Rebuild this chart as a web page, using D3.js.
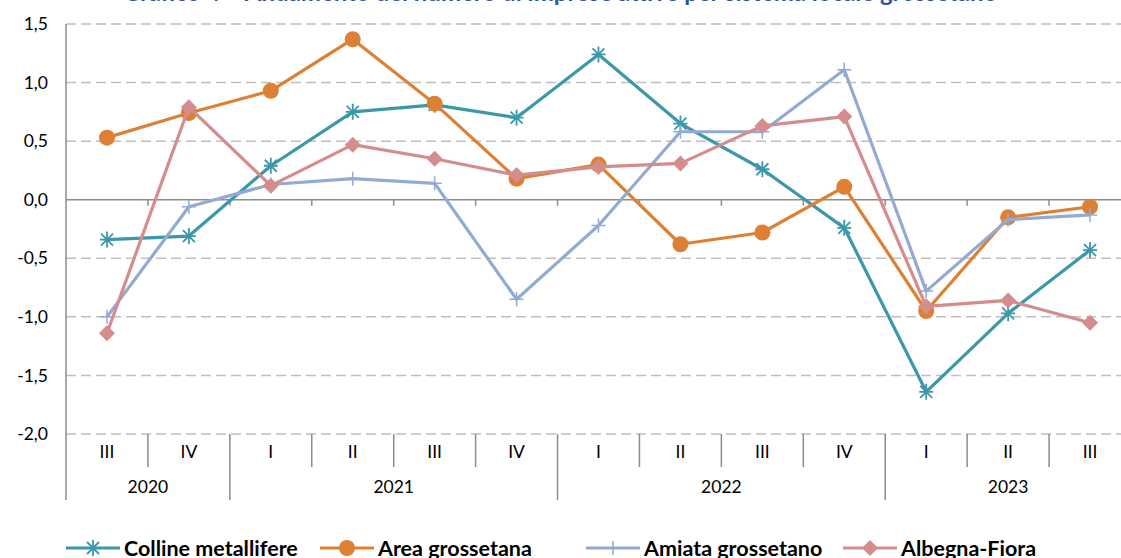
<!DOCTYPE html>
<meta charset="utf-8">
<script src="https://d3js.org/d3.v7.min.js"></script>
<style>
  body { margin: 0; background: #fff; }
  svg { font-family: Lato, "Open Sans", sans-serif; }
</style>
<div id="chart"></div>
<script>
// quarters and years along the bottom
var quarters = ["III", "IV", "I", "II", "III", "IV", "I", "II", "III", "IV", "I", "II", "III"];
var years = [
  {year: "2020", n: 2},
  {year: "2021", n: 4},
  {year: "2022", n: 4},
  {year: "2023", n: 3}
];
var yTicks = [1.5, 1.0, 0.5, 0.0, -0.5, -1.0, -1.5, -2.0];

var colline = [-0.34, -0.31, 0.29, 0.75, 0.81, 0.70, 1.24, 0.65, 0.26, -0.24, -1.64, -0.97, -0.43];
var area = [0.53, 0.74, 0.93, 1.37, 0.82, 0.18, 0.30, -0.38, -0.28, 0.11, -0.95, -0.15, -0.06];
var amiata = [-1.00, -0.06, 0.13, 0.18, 0.14, -0.85, -0.22, 0.58, 0.58, 1.11, -0.78, -0.17, -0.13];
var albegna = [-1.14, 0.79, 0.12, 0.47, 0.35, 0.21, 0.28, 0.31, 0.63, 0.71, -0.91, -0.86, -1.05];

var series = [
  {name: "Colline metallifere", values: colline, color: "#3B98A9", marker: "star"},
  {name: "Area grossetana", values: area, color: "#DE8034", marker: "circle"},
  {name: "Amiata grossetano", values: amiata, color: "#93AAD3", marker: "plus"},
  {name: "Albegna-Fiora", values: albegna, color: "#D48C8C", marker: "diamond"}
];

var W = 1121, H = 558;
var plotLeft = 66, plotRight = 1131, plotTop = 24, plotBottom = 434;

var svg = d3.select("#chart").append("svg")
  .attr("width", W).attr("height", H);

var x = d3.scaleBand()
  .domain(d3.range(quarters.length))
  .range([plotLeft, plotRight]);

var y = d3.scaleLinear()
  .domain([-2, 1.5])
  .range([plotBottom, plotTop]);

// title (cut off at the top of the picture)
svg.append("text")
  .attr("x", 560).attr("y", 1)
  .attr("text-anchor", "middle")
  .style("font-size", "24px").style("font-weight", "bold")
  .attr("fill", "#2F5597")
  .text("Grafico 4 \u2013 Andamento del numero di imprese attive per sistema locale grossetano");

// gridlines
svg.append("g").selectAll("line")
  .data(yTicks.filter(function(d) { return d !== 0; }))
  .enter().append("line")
  .attr("x1", plotLeft).attr("x2", W)
  .attr("y1", function(d) { return y(d); })
  .attr("y2", function(d) { return y(d); })
  .attr("stroke", "#BFBFBF")
  .attr("stroke-width", 1.5)
  .attr("stroke-dasharray", "10,5");

// y axis labels
var yAxis = d3.axisLeft(y).tickValues(yTicks).tickSize(0).tickPadding(18)
  .tickFormat(function(d) { return d3.format(".1f")(d).replace(".", ",").replace("\u2212", "-"); });
var ya = svg.append("g").attr("transform", "translate(" + plotLeft + ",0)").call(yAxis);
ya.select(".domain").remove();
ya.selectAll("text").style("font-size", "17.5px").attr("fill", "#000")
  .style("font-family", "Lato, sans-serif");

// vertical axis line
svg.append("line")
  .attr("x1", plotLeft).attr("x2", plotLeft)
  .attr("y1", plotTop).attr("y2", 500)
  .attr("stroke", "#8C8C8C").attr("stroke-width", 1.5);

// zero line with small ticks
svg.append("line")
  .attr("x1", plotLeft).attr("x2", W)
  .attr("y1", y(0)).attr("y2", y(0))
  .attr("stroke", "#8C8C8C").attr("stroke-width", 1.5);
svg.append("g").selectAll("line")
  .data(d3.range(1, quarters.length))
  .enter().append("line")
  .attr("x1", function(d) { return x(d); })
  .attr("x2", function(d) { return x(d); })
  .attr("y1", y(0)).attr("y2", y(0) + 6)
  .attr("stroke", "#8C8C8C").attr("stroke-width", 1.5);

// category separators at bottom
var yearStarts = [0];
years.forEach(function(d) { yearStarts.push(yearStarts[yearStarts.length - 1] + d.n); });
svg.append("g").selectAll("line")
  .data(d3.range(1, quarters.length))
  .enter().append("line")
  .attr("x1", function(d) { return x(d); })
  .attr("x2", function(d) { return x(d); })
  .attr("y1", plotBottom)
  .attr("y2", function(d) { return yearStarts.indexOf(d) >= 0 ? 500 : 467; })
  .attr("stroke", "#8C8C8C").attr("stroke-width", 1.5);

svg.append("g").selectAll("text")
  .data(quarters)
  .enter().append("text")
  .attr("x", function(d, i) { return x(i) + x.bandwidth() / 2; })
  .attr("y", 458)
  .attr("text-anchor", "middle")
  .style("font-size", "17.5px")
  .text(function(d) { return d; });

svg.append("g").selectAll("text")
  .data(years)
  .enter().append("text")
  .attr("x", function(d, i) {
    return (x(yearStarts[i]) + x(yearStarts[i + 1] - 1) + x.bandwidth()) / 2;
  })
  .attr("y", 493)
  .attr("text-anchor", "middle")
  .style("font-size", "17.5px")
  .text(function(d) { return d.year; });

// markers
function drawMarker(g, type, color) {
  if (type === "circle") {
    g.append("circle").attr("r", 8).attr("fill", color);
  } else if (type === "diamond") {
    g.append("path").attr("d", "M0,-8L8,0L0,8L-8,0Z").attr("fill", color);
  } else if (type === "plus") {
    g.append("path").attr("d", "M-7,0H7M0,-7V7")
      .attr("stroke", color).attr("stroke-width", 1.5);
  } else if (type === "star") {
    g.append("path").attr("d", "M-7,0H7M0,-8V8M-6,-6L6,6M-6,6L6,-6")
      .attr("stroke", color).attr("stroke-width", 1.8);
  }
}

var line = d3.line()
  .x(function(d, i) { return x(i) + x.bandwidth() / 2; })
  .y(function(d) { return y(d); });

series.forEach(function(s) {
  var g = svg.append("g");
  g.append("path")
    .attr("d", line(s.values))
    .attr("fill", "none")
    .attr("stroke", s.color)
    .attr("stroke-width", 3.2)
    .attr("stroke-linejoin", "round");
  s.values.forEach(function(v, i) {
    var m = g.append("g")
      .attr("transform", "translate(" + (x(i) + x.bandwidth() / 2) + "," + y(v) + ")");
    drawMarker(m, s.marker, s.color);
  });
});

// legend
var legendX = [66, 320, 586, 843];
series.forEach(function(s, i) {
  var g = svg.append("g").attr("transform", "translate(" + legendX[i] + ",548)");
  g.append("line").attr("x1", 0).attr("x2", 54).attr("y1", 0).attr("y2", 0)
    .attr("stroke", s.color).attr("stroke-width", 3.2);
  var m = g.append("g").attr("transform", "translate(27,0)");
  drawMarker(m, s.marker, s.color);
  g.append("text")
    .attr("x", 58).attr("y", 7.5)
    .style("font-size", "21.5px").style("font-weight", "bold")
    .text(s.name);
});
</script>
